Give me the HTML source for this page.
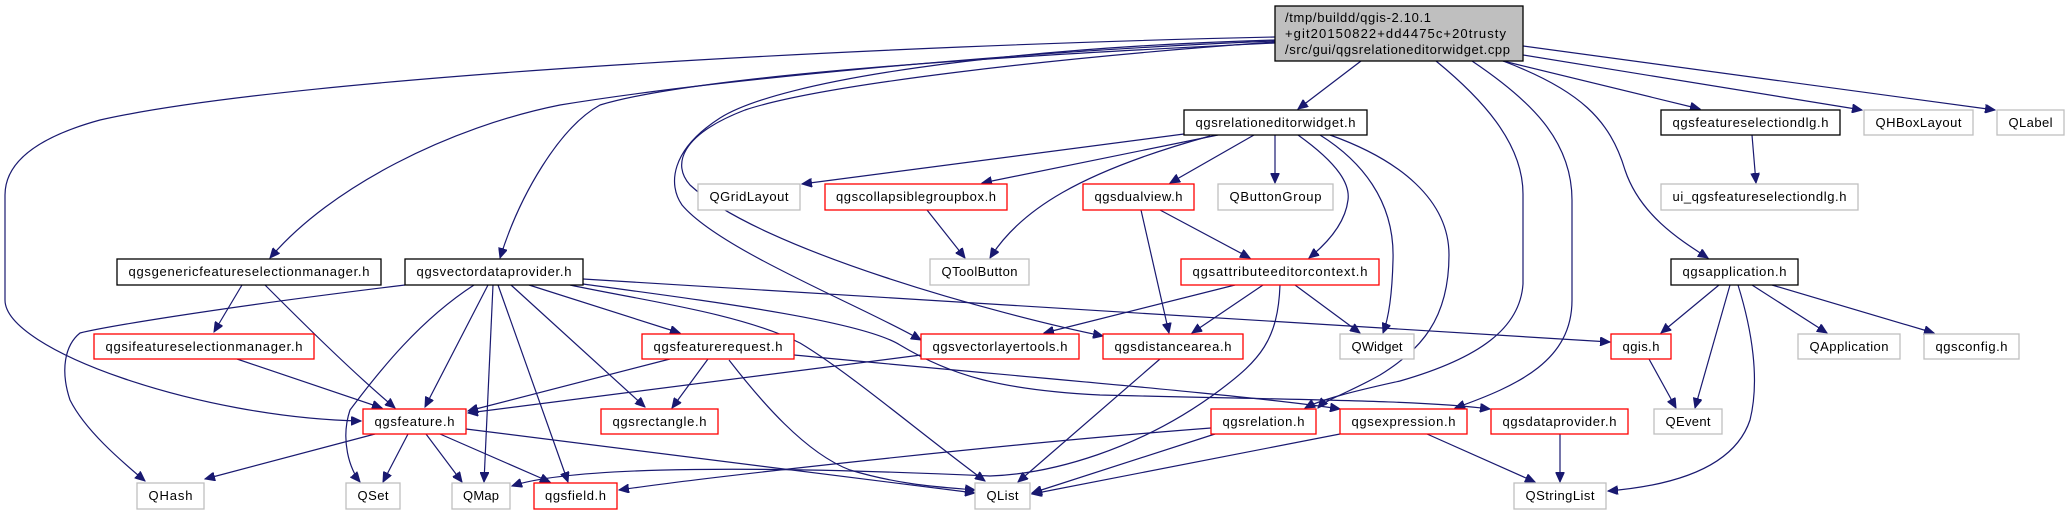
<!DOCTYPE html>
<html><head><meta charset="utf-8"><style>
html,body{margin:0;padding:0;background:#fff;}
svg{display:block;}
text{font-family:"Liberation Sans","DejaVu Sans",sans-serif;font-size:13px;fill:#000;}
.e{fill:none;stroke:#191970;stroke-width:1.2;}
.b{fill:#fff;stroke:#000;stroke-width:1.3;}
.r{fill:#fff;stroke:#ff0000;stroke-width:1.3;}
.g{fill:#fff;stroke:#bfbfbf;stroke-width:1.3;}
</style></head><body>
<svg width="2069" height="515" viewBox="0 0 2069 515" xmlns="http://www.w3.org/2000/svg">
<defs><marker id="a" markerWidth="11" markerHeight="9" refX="10" refY="4.5" orient="auto" markerUnits="userSpaceOnUse"><path d="M0,0 L10,4.5 L0,9 z" fill="#191970" stroke="#191970"/></marker></defs>
<g class="e" marker-end="url(#a)">
<path d="M1275,37 C900,45 300,75 100,120 C20,142 5,172 5,195 L5,300 C5,350 200,418 361,421"/>
<path d="M1275,41 C1000,52 700,82 560,105 C450,127 330,187 270,258"/>
<path d="M1275,43 C1000,56 700,75 600,105 C560,127 520,194 500,258"/>
<path d="M1275,40 C1000,48 780,80 720,118 C670,150 668,185 682,205 C720,250 860,305 921,340"/>
<path d="M1275,42 C1050,58 820,85 745,110 C680,135 672,165 690,185 C760,250 1000,315 1103,336"/>
<path d="M1361,61 L1298,109"/>
<path d="M1436,61 C1480,97 1523,142 1523,194 L1523,284 C1520,328 1480,358 1400,381 C1350,392 1320,400 1305,408"/>
<path d="M1472,61 C1530,100 1572,140 1572,200 L1572,300 C1572,360 1520,385 1455,408"/>
<path d="M1503,61 L1700,109"/>
<path d="M1523,55 L1862,110"/>
<path d="M1523,46 L1995,110"/>
<path d="M1503,61 C1580,90 1610,120 1625,170 C1640,215 1680,240 1708,258"/>
<path d="M1184,134 L802,184"/>
<path d="M1218,135 L982,183"/>
<path d="M1210,136 C1080,172 1020,210 990,258"/>
<path d="M1254,135 L1170,183"/>
<path d="M1275,135 L1275,183"/>
<path d="M1298,135 C1340,165 1350,185 1348,200 C1345,225 1325,245 1309,258"/>
<path d="M1320,135 C1360,160 1395,200 1393,260 C1392,300 1388,320 1383,333"/>
<path d="M1330,135 C1400,160 1449,200 1449,255 C1449,320 1420,350 1380,375 C1350,392 1325,400 1318,408"/>
<path d="M927,210 L965,258"/>
<path d="M1160,210 L1250,258"/>
<path d="M1141,210 L1169,333"/>
<path d="M1235,285 L1044,333"/>
<path d="M1263,285 L1192,333"/>
<path d="M1295,285 L1360,333"/>
<path d="M1280,285 C1278,340 1260,360 1220,390 C1140,450 1050,474 990,476 C700,463 560,470 512,486"/>
<path d="M1211,428 C1000,444 700,478 619,490"/>
<path d="M1215,434 L1032,493"/>
<path d="M1340,434 L1032,494"/>
<path d="M1427,434 L1535,482"/>
<path d="M1560,434 L1560,482"/>
<path d="M1160,359 L1018,482"/>
<path d="M921,355 L468,413"/>
<path d="M670,359 L468,411"/>
<path d="M708,359 L672,408"/>
<path d="M729,360 C760,400 805,453 850,470 C900,485 940,487 975,490"/>
<path d="M794,355 C1000,375 1250,395 1340,409"/>
<path d="M405,285 C200,310 100,328 80,333 C65,345 60,370 70,400 C85,430 120,460 145,481"/>
<path d="M474,285 C420,320 380,370 350,410 C340,440 350,470 360,482"/>
<path d="M488,285 L425,407"/>
<path d="M493,285 L484,482"/>
<path d="M498,285 L568,482"/>
<path d="M511,285 L645,407"/>
<path d="M529,285 L680,333"/>
<path d="M570,285 C640,300 740,313 800,343 C850,373 920,433 985,481"/>
<path d="M583,279 L1610,342"/>
<path d="M583,284 C700,300 860,320 900,345 C950,375 1000,390 1100,395 C1300,400 1420,400 1490,409"/>
<path d="M242,285 L214,332"/>
<path d="M265,285 C300,320 350,370 395,408"/>
<path d="M237,359 L382,408"/>
<path d="M375,434 L205,479"/>
<path d="M408,434 L383,482"/>
<path d="M426,434 L462,482"/>
<path d="M440,434 L550,482"/>
<path d="M466,429 L975,493"/>
<path d="M1752,135 L1756,183"/>
<path d="M1719,285 L1661,333"/>
<path d="M1730,285 L1695,408"/>
<path d="M1738,285 C1752,330 1760,380 1750,420 C1735,465 1680,485 1608,491"/>
<path d="M1752,285 L1827,333"/>
<path d="M1772,285 L1934,333"/>
<path d="M1649,359 L1676,408"/>
</g>
<rect x="1275" y="6" width="248" height="55" fill="#bfbfbf" stroke="#000" stroke-width="1.3"/>
<text x="1285" y="22" textLength="146">/tmp/buildd/qgis-2.10.1</text>
<text x="1285" y="38" textLength="221">+git20150822+dd4475c+20trusty</text>
<text x="1285" y="54" textLength="225">/src/gui/qgsrelationeditorwidget.cpp</text>
<rect class="b" x="1184" y="110" width="183" height="25"/><text x="1275.5" y="127" text-anchor="middle" textLength="160">qgsrelationeditorwidget.h</text>
<rect class="b" x="1661" y="110" width="179" height="25"/><text x="1750.5" y="127" text-anchor="middle" textLength="156">qgsfeatureselectiondlg.h</text>
<rect class="g" x="1864" y="110" width="109" height="25"/><text x="1918.5" y="127" text-anchor="middle" textLength="86">QHBoxLayout</text>
<rect class="g" x="1997" y="110" width="67" height="25"/><text x="2030.5" y="127" text-anchor="middle" textLength="44">QLabel</text>
<rect class="g" x="698" y="184" width="102" height="26"/><text x="749" y="201" text-anchor="middle" textLength="79">QGridLayout</text>
<rect class="r" x="825" y="184" width="182" height="26"/><text x="916" y="201" text-anchor="middle" textLength="160">qgscollapsiblegroupbox.h</text>
<rect class="r" x="1083" y="184" width="111" height="26"/><text x="1138.5" y="201" text-anchor="middle" textLength="88">qgsdualview.h</text>
<rect class="g" x="1218" y="184" width="115" height="26"/><text x="1275.5" y="201" text-anchor="middle" textLength="92">QButtonGroup</text>
<rect class="g" x="1661" y="184" width="197" height="26"/><text x="1759.5" y="201" text-anchor="middle" textLength="174">ui_qgsfeatureselectiondlg.h</text>
<rect class="b" x="117" y="259" width="264" height="26"/><text x="249" y="276" text-anchor="middle" textLength="241">qgsgenericfeatureselectionmanager.h</text>
<rect class="b" x="405" y="259" width="178" height="26"/><text x="494" y="276" text-anchor="middle" textLength="155">qgsvectordataprovider.h</text>
<rect class="g" x="930" y="259" width="99" height="26"/><text x="979.5" y="276" text-anchor="middle" textLength="76">QToolButton</text>
<rect class="r" x="1181" y="259" width="198" height="26"/><text x="1280" y="276" text-anchor="middle" textLength="175">qgsattributeeditorcontext.h</text>
<rect class="b" x="1671" y="259" width="127" height="26"/><text x="1734.5" y="276" text-anchor="middle" textLength="104">qgsapplication.h</text>
<rect class="r" x="94" y="334" width="220" height="25"/><text x="204" y="351" text-anchor="middle" textLength="197">qgsifeatureselectionmanager.h</text>
<rect class="r" x="642" y="334" width="152" height="25"/><text x="718" y="351" text-anchor="middle" textLength="129">qgsfeaturerequest.h</text>
<rect class="r" x="921" y="334" width="158" height="25"/><text x="1000" y="351" text-anchor="middle" textLength="135">qgsvectorlayertools.h</text>
<rect class="r" x="1103" y="334" width="140" height="25"/><text x="1173" y="351" text-anchor="middle" textLength="117">qgsdistancearea.h</text>
<rect class="g" x="1340" y="334" width="74" height="25"/><text x="1377" y="351" text-anchor="middle" textLength="51">QWidget</text>
<rect class="r" x="1611" y="334" width="60" height="25"/><text x="1641" y="351" text-anchor="middle" textLength="37">qgis.h</text>
<rect class="g" x="1798" y="334" width="102" height="25"/><text x="1849" y="351" text-anchor="middle" textLength="79">QApplication</text>
<rect class="g" x="1924" y="334" width="95" height="25"/><text x="1971.5" y="351" text-anchor="middle" textLength="72">qgsconfig.h</text>
<rect class="r" x="363" y="409" width="103" height="25"/><text x="414.5" y="426" text-anchor="middle" textLength="80">qgsfeature.h</text>
<rect class="r" x="601" y="409" width="117" height="25"/><text x="659.5" y="426" text-anchor="middle" textLength="94">qgsrectangle.h</text>
<rect class="r" x="1211" y="409" width="105" height="25"/><text x="1263.5" y="426" text-anchor="middle" textLength="82">qgsrelation.h</text>
<rect class="r" x="1340" y="409" width="127" height="25"/><text x="1403.5" y="426" text-anchor="middle" textLength="104">qgsexpression.h</text>
<rect class="r" x="1491" y="409" width="137" height="25"/><text x="1559.5" y="426" text-anchor="middle" textLength="114">qgsdataprovider.h</text>
<rect class="g" x="1654" y="409" width="68" height="25"/><text x="1688" y="426" text-anchor="middle" textLength="45">QEvent</text>
<rect class="g" x="137" y="483" width="67" height="26"/><text x="170.5" y="500" text-anchor="middle" textLength="44">QHash</text>
<rect class="g" x="346" y="483" width="54" height="26"/><text x="373" y="500" text-anchor="middle" textLength="31">QSet</text>
<rect class="g" x="452" y="483" width="58" height="26"/><text x="481" y="500" text-anchor="middle" textLength="36">QMap</text>
<rect class="r" x="534" y="483" width="83" height="26"/><text x="575.5" y="500" text-anchor="middle" textLength="61">qgsfield.h</text>
<rect class="g" x="975" y="483" width="55" height="26"/><text x="1002.5" y="500" text-anchor="middle" textLength="32">QList</text>
<rect class="g" x="1514" y="483" width="92" height="26"/><text x="1560" y="500" text-anchor="middle" textLength="69">QStringList</text>
</svg>
</body></html>
